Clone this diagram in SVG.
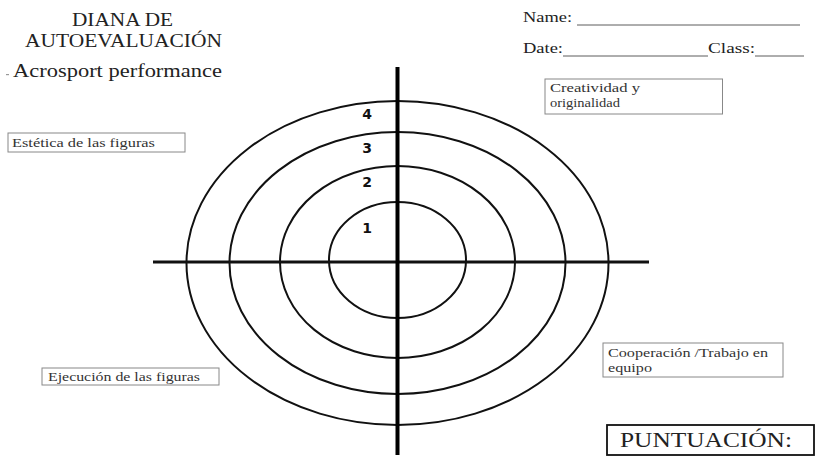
<svg xmlns="http://www.w3.org/2000/svg" width="817" height="461" viewBox="0 0 817 461">
<style>
.t{font-family:"Liberation Serif","Times New Roman",serif;fill:#222}
.lbl{font-family:"Liberation Serif","Times New Roman",serif;fill:#333;font-size:13.5px}
.box{fill:#fff;stroke:#888;stroke-width:1}
.ring{fill:none;stroke:#111;stroke-width:2}
.num{font-family:"DejaVu Sans",Verdana,sans-serif;font-weight:bold;font-size:14px;fill:#111;text-anchor:middle}
</style>
<rect width="817" height="461" fill="#fff"/>
<g id="header">
<text class="t" x="72" y="26" font-size="18" textLength="101" lengthAdjust="spacingAndGlyphs">DIANA DE</text>
<text class="t" x="25" y="47" font-size="18" textLength="197" lengthAdjust="spacingAndGlyphs">AUTOEVALUACIÓN</text>
<rect x="6" y="74" width="3" height="1.2" fill="#999"/>
<text class="t" x="13" y="77" font-size="18" textLength="209" lengthAdjust="spacingAndGlyphs">Acrosport performance</text>
<text class="t" x="523" y="22" font-size="15" textLength="49" lengthAdjust="spacingAndGlyphs">Name:</text>
<line x1="577" y1="25" x2="800" y2="25" stroke="#333" stroke-width="0.8"/>
<text class="t" x="523" y="53" font-size="15" textLength="40" lengthAdjust="spacingAndGlyphs">Date:</text>
<line x1="563" y1="56" x2="708" y2="56" stroke="#333" stroke-width="0.8"/>
<text class="t" x="708" y="53" font-size="15" textLength="47" lengthAdjust="spacingAndGlyphs">Class:</text>
<line x1="755" y1="56" x2="804" y2="56" stroke="#333" stroke-width="0.8"/>
</g>
<g id="target">
<ellipse class="ring" cx="397.5" cy="263" rx="211" ry="162"/>
<ellipse class="ring" cx="397.5" cy="263" rx="168" ry="131"/>
<ellipse class="ring" cx="397.5" cy="262" rx="117.5" ry="96"/>
<ellipse class="ring" cx="397.5" cy="260" rx="68.5" ry="58"/>
</g>
<g id="connectors">
<line x1="153" y1="262" x2="649" y2="262" stroke="#111" stroke-width="3"/>
<line x1="397.5" y1="67" x2="397.5" y2="455" stroke="#000" stroke-width="4"/>
</g>
<g id="numbers">
<text class="num" x="367" y="119">4</text>
<text class="num" x="367" y="153">3</text>
<text class="num" x="367" y="187">2</text>
<text class="num" x="367" y="233">1</text>
</g>
<g id="creatividad">
<rect class="box" x="545" y="79" width="177.5" height="35"/>
<text class="lbl" x="550" y="92" textLength="90" lengthAdjust="spacingAndGlyphs">Creatividad y</text>
<text class="lbl" x="550" y="107" textLength="70" lengthAdjust="spacingAndGlyphs">originalidad</text>
</g>
<g id="estetica">
<rect class="box" x="8" y="133" width="177" height="19"/>
<text class="lbl" x="12" y="147" textLength="143" lengthAdjust="spacingAndGlyphs">Estética de las figuras</text>
</g>
<g id="ejecucion">
<rect class="box" x="42" y="368" width="177" height="17"/>
<text class="lbl" x="48" y="381" textLength="152" lengthAdjust="spacingAndGlyphs">Ejecución de las figuras</text>
</g>
<g id="cooperacion">
<rect class="box" x="603" y="343" width="180" height="34"/>
<text class="lbl" x="608" y="357" textLength="160" lengthAdjust="spacingAndGlyphs">Cooperación /Trabajo en</text>
<text class="lbl" x="608" y="372" textLength="44" lengthAdjust="spacingAndGlyphs">equipo</text>
</g>
<g id="puntuacion">
<rect x="607" y="425" width="207" height="30" fill="#fff" stroke="#111" stroke-width="1.8"/>
<text class="t" x="620" y="447" font-size="20" textLength="172" lengthAdjust="spacingAndGlyphs">PUNTUACIÓN:</text>
</g>
</svg>
